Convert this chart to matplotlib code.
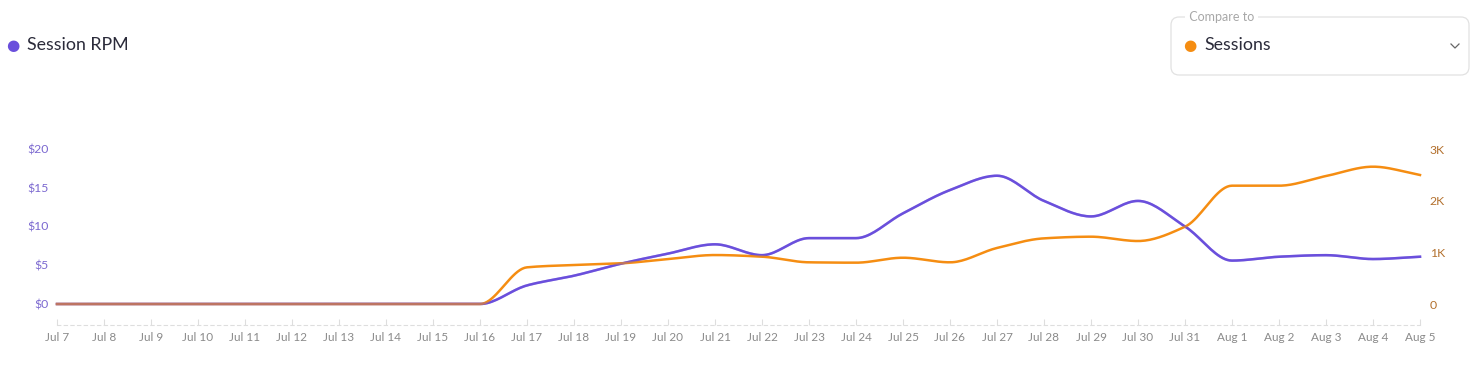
import matplotlib

matplotlib.use("Agg")
import matplotlib.pyplot as plt
import numpy as np
from matplotlib.lines import Line2D
from matplotlib.patches import FancyBboxPatch

plt.rcParams["font.family"] = ["Lato", "DejaVu Sans"]

dates = [
    "Jul 7", "Jul 8", "Jul 9", "Jul 10", "Jul 11", "Jul 12", "Jul 13", "Jul 14",
    "Jul 15", "Jul 16", "Jul 17", "Jul 18", "Jul 19", "Jul 20", "Jul 21", "Jul 22",
    "Jul 23", "Jul 24", "Jul 25", "Jul 26", "Jul 27", "Jul 28", "Jul 29", "Jul 30",
    "Jul 31", "Aug 1", "Aug 2", "Aug 3", "Aug 4", "Aug 5",
]
session_rpm = [
    0, 0, 0, 0, 0, 0, 0, 0, 0, 0,
    2.4, 3.65, 5.2, 6.5, 7.7, 6.3, 8.5, 8.5, 11.7, 14.7,
    16.55, 13.3, 11.3, 13.3, 10.0, 5.6, 6.1, 6.3, 5.8, 6.1,
]
sessions = [
    0, 0, 0, 0, 0, 0, 0, 0, 0, 0,
    710, 755, 787, 870, 948, 916, 807, 800, 896, 807,
    1085, 1271, 1303, 1219, 1496, 2290, 2290, 2477, 2658, 2497,
]
rpm_ticks = [0, 5, 10, 15, 20]
session_ticks = [0, 1000, 2000, 3000]
session_tick_labels = ["0", "1K", "2K", "3K"]

PURPLE = "#6a4fdc"
ORANGE = "#f58d12"
RPM_TEXT = "#7b68d0"
SESS_TEXT = "#b3702d"
GRAY_TEXT = "#8a8a8a"


def monotone_curve(x, y, n=20):
    # monotone cubic (Fritsch-Carlson) for drawing smooth lines through the points
    x = np.asarray(x, float)
    y = np.asarray(y, float)
    h = np.diff(x)
    d = np.diff(y) / h
    m = np.zeros_like(y)
    m[0], m[-1] = d[0], d[-1]
    for i in range(1, len(y) - 1):
        if d[i - 1] * d[i] <= 0:
            m[i] = 0.0
        else:
            w1 = 2 * h[i] + h[i - 1]
            w2 = h[i] + 2 * h[i - 1]
            m[i] = (w1 + w2) / (w1 / d[i - 1] + w2 / d[i])
    xs, ys = [], []
    for i in range(len(x) - 1):
        t = np.linspace(0, 1, n, endpoint=False)
        h00 = 2 * t**3 - 3 * t**2 + 1
        h10 = t**3 - 2 * t**2 + t
        h01 = -2 * t**3 + 3 * t**2
        h11 = t**3 - t**2
        xs.append(x[i] + t * h[i])
        ys.append(h00 * y[i] + h10 * h[i] * m[i] + h01 * y[i + 1] + h11 * h[i] * m[i + 1])
    xs.append([x[-1]])
    ys.append([y[-1]])
    return np.concatenate(xs), np.concatenate(ys)


W, H = 1480, 372
fig = plt.figure(figsize=(W / 100, H / 100), dpi=100)


def fx(px):
    return px / W


def fy(py):
    return (H - py) / H


ax = fig.add_axes([fx(57), fy(325), (1420 - 57) / W, (325 - 149) / H])
ax2 = ax.twinx()

xi = np.arange(len(dates))
cx, cy = monotone_curve(xi, session_rpm)
sx, sy = monotone_curve(xi, sessions)

ax.plot(cx, cy, color=PURPLE, lw=1.8, clip_on=False, zorder=2)
ax2.plot(sx, sy, color=ORANGE, lw=1.8, clip_on=False, zorder=2)
# faint purple pass on top so the overlapping zero stretch blends like the original
ax2.plot(cx, np.interp(cy, [-2.71, 20], [-406, 3000]), color=PURPLE, lw=1.8,
         alpha=0.4, clip_on=False, zorder=3)

ax.set_xlim(0, len(dates) - 1)
ax.set_ylim(-2.71, 20)
ax2.set_ylim(-406, 3000)

ax.set_xticks(xi)
ax.set_xticklabels(dates)
ax.set_yticks(rpm_ticks)
ax.set_yticklabels([f"${v}" for v in rpm_ticks])
ax2.set_yticks(session_ticks)
ax2.set_yticklabels(session_tick_labels)

for a in (ax, ax2):
    for side in ("top", "left", "right", "bottom"):
        a.spines[side].set_visible(False)

ax.spines["bottom"].set_visible(True)
ax.spines["bottom"].set_linestyle((0, (3, 3)))
ax.spines["bottom"].set_color("#dedede")
ax.spines["bottom"].set_linewidth(0.8)

ax.tick_params(axis="x", direction="in", length=4, color="#dedede", width=0.8,
               labelsize=8.5, labelcolor=GRAY_TEXT, pad=5)
ax.tick_params(axis="y", length=0, labelsize=8.8, labelcolor=RPM_TEXT, pad=6)
ax2.tick_params(axis="y", length=0, labelsize=8.8, labelcolor=SESS_TEXT, pad=7)

# header: metric label
fig.text(fx(13), fy(45), "\u25cf", color=PURPLE, fontsize=11, ha="center", va="center",
         family=["DejaVu Sans"])
fig.text(fx(27), fy(45), "Session RPM", color="#2b2b3a", fontsize=12.8, ha="left", va="center")

# header: "Compare to" box
box = FancyBboxPatch((fx(1171), fy(75)), (1469 - 1171) / W, (75 - 17) / H,
                     boxstyle="round,pad=0,rounding_size=0.0055", transform=fig.transFigure,
                     facecolor="white", edgecolor="#e2e2e2", lw=0.9, mutation_aspect=W / H)
fig.patches.append(box)
fig.text(fx(1186), fy(17), " Compare to ", color="#a8a8a8", fontsize=9, ha="left", va="center",
         bbox=dict(facecolor="white", edgecolor="none", pad=0.5))
fig.text(fx(1190), fy(45), "\u25cf", color=ORANGE, fontsize=11, ha="center", va="center",
         family=["DejaVu Sans"])
fig.text(fx(1204), fy(45), "Sessions", color="#2b2b3a", fontsize=12.8, ha="left", va="center")
# dropdown chevron
fig.lines.append(Line2D([fx(1451), fx(1455), fx(1459)], [fy(44), fy(48), fy(44)],
                        transform=fig.transFigure, color="#666666", lw=0.9))

fig.savefig("out.png", dpi=100, facecolor="white")
